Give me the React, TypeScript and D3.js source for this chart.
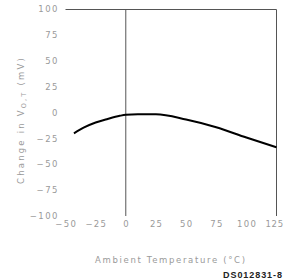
import React from "react";
import * as d3 from "d3";

const temps = [-43, -35, -25, -15, -5, 0, 10, 25, 50, 75, 100, 125];
const deltas = [-20, -14.5, -9.5, -6, -3, -2, -1.5, -1.5, -6.5, -14, -24, -33.5];
const xTicks = [-50, -25, 0, 25, 50, 75, 100, 125];
const yTicks = [100, 75, 50, 25, 0, -25, -50, -75, -100];

export default function App() {
  const W = 285, H = 280;
  const x = d3.scaleLinear().domain([-50, 125]).range([65.5, 276.5]);
  const y = d3.scaleLinear().domain([-100, 100]).range([216, 9.5]);
  const line = d3
    .line<number>()
    .x((_, i) => x(temps[i]))
    .y((d) => y(d))
    .curve(d3.curveMonotoneX);
  const font = "'DejaVu Sans', sans-serif";
  const gray = "#9a9a9a";
  const fmt = (t: number) => (t < 0 ? "\u2212" + Math.abs(t) : String(t));
  return (
    <svg width={W} height={H} style={{ position: "absolute", left: 0, top: 0 }}>
      <rect width={W} height={H} fill="#fff" />
      <line x1={x(-50)} x2={x(125)} y1={y(100)} y2={y(100)} stroke="#555" strokeWidth={1} />
      <line x1={x(0)} x2={x(0)} y1={y(100)} y2={y(-100)} stroke="#555" strokeWidth={1} />
      <line x1={x(125)} x2={x(125)} y1={y(100)} y2={y(-100)} stroke="#555" strokeWidth={1} />
      {yTicks.map((t) => (
        <text key={t} x={59} y={y(t)} dy="0.35em" textAnchor="end" fontSize={8.5} letterSpacing={1.5} fontFamily={font} fill={gray}>
          {fmt(t)}
        </text>
      ))}
      {xTicks.map((t, i) => {
        const last = i === xTicks.length - 1;
        return (
          <text key={t} x={last ? W - 1 : x(t) + 0.7} y={227} textAnchor={last ? "end" : "middle"} fontSize={8.5} letterSpacing={last ? 0.8 : 1.3} fontFamily={font} fill={gray}>
            {fmt(t)}
          </text>
        );
      })}
      <path d={line(deltas) || ""} fill="none" stroke="#000" strokeWidth={2} />
      <text transform={`translate(24,120) rotate(-90)`} textAnchor="middle" fontSize={8.5} letterSpacing={2.2} fontFamily={font} fill={gray}>
        Change in V<tspan fontSize={6.5} dy={2}>O,T</tspan>
        <tspan dy={-2}> (mV)</tspan>
      </text>
      <text x={95} y={263} textLength={150} lengthAdjust="spacing" fontSize={8.5} fontFamily={font} fill={gray}>
        Ambient Temperature (°C)
      </text>
      <text x={223} y={278} textLength={59} lengthAdjust="spacing" fontSize={9} fontWeight="bold" fontFamily="'Liberation Sans', Arial, sans-serif" fill="#222">
        DS012831-8
      </text>
    </svg>
  );
}
